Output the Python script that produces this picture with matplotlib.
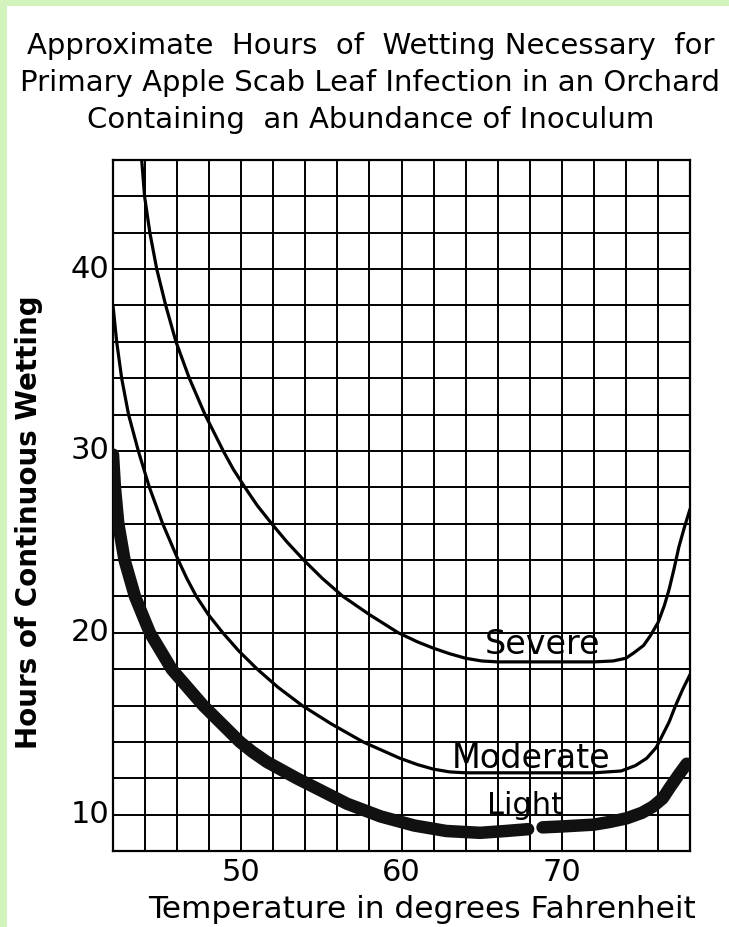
import matplotlib.pyplot as plt
from matplotlib.patches import Rectangle

# curves (deg F, hours)
severe_x = [43.79, 43.97, 44.3, 44.73, 45.29, 45.93, 46.76, 47.74, 48.88, 49.5, 50.23, 51.0,
            51.9, 52.85, 53.9, 55.05, 56.35, 58.0, 59.8, 61.0, 62.0, 63.0, 64.0, 65.0, 66.0,
            68.0, 70.0, 72.0, 73.2, 74.0, 74.5, 75.1, 75.5, 76.0, 76.4, 76.7, 77.0, 77.3,
            77.65, 78.0]
severe_y = [46.0, 44.0, 42.0, 40.0, 38.0, 36.0, 34.0, 32.0, 30.0, 29.0, 28.0, 27.0,
            26.0, 25.0, 24.0, 23.0, 22.0, 21.0, 20.0, 19.5, 19.15, 18.85, 18.6, 18.45, 18.4,
            18.4, 18.4, 18.4, 18.45, 18.6, 18.9, 19.3, 19.8, 20.55, 21.5, 22.4, 23.5, 24.7,
            25.8, 26.8]

moderate_x = [42.0, 42.23, 42.54, 42.97, 43.58, 44.27, 45.1, 46.07, 46.6, 47.2, 47.95, 48.85,
              49.85, 51.0, 52.3, 53.8, 55.6, 57.6, 59.9, 61.0, 62.0, 63.0, 64.0, 66.0, 68.0,
              70.0, 72.0, 73.7, 74.6, 75.3, 75.9, 76.3, 76.7, 77.1, 77.55, 78.0]
moderate_y = [38.0, 36.0, 34.0, 32.0, 30.0, 28.0, 26.0, 24.0, 23.0, 22.0, 21.0, 20.0,
              19.0, 18.0, 17.0, 16.0, 15.0, 14.0, 13.1, 12.75, 12.5, 12.35, 12.3, 12.3, 12.3,
              12.3, 12.3, 12.4, 12.7, 13.1, 13.7, 14.4, 15.1, 16.0, 16.9, 17.7]

light_left_x = [42.0, 42.12, 42.33, 42.72, 43.37, 44.3, 45.66, 47.63, 49.92, 50.7, 51.6, 53.46,
                54.7, 56.6, 58.7, 60.8, 62.8, 64.9, 66.5, 67.9]
light_left_y = [29.8, 28.0, 26.0, 24.0, 22.0, 20.0, 18.0, 16.0, 14.0, 13.45, 12.9, 12.0,
                11.45, 10.6, 9.9, 9.4, 9.1, 9.0, 9.1, 9.2]
light_right_x = [68.8, 70.0, 72.0, 73.0, 74.05, 75.0, 75.7, 76.3, 76.75, 77.3, 77.8]
light_right_y = [9.3, 9.35, 9.45, 9.6, 9.8, 10.1, 10.45, 10.9, 11.5, 12.2, 12.8]

x_ticks = [50, 60, 70]
y_ticks = [10, 20, 30, 40]

fig = plt.figure(figsize=(7.29, 9.27), dpi=100, facecolor='white')
# greenish scan border on the left and top
green = '#d2f4bc'
fig.patches.append(Rectangle((0, 0), 7 / 729, 1, transform=fig.transFigure,
                             facecolor=green, edgecolor='none'))
fig.patches.append(Rectangle((0, 1 - 6 / 927), 1, 6 / 927, transform=fig.transFigure,
                             facecolor=green, edgecolor='none'))

ax = fig.add_axes([113 / 729, 76 / 927, 577 / 729, 691 / 927])
ax.set_xlim(42, 78)
ax.set_ylim(8, 46)
ax.set_xticks(range(42, 79, 2))
ax.set_yticks(range(8, 47, 2))
ax.grid(True, color='black', linewidth=1.4)
ax.tick_params(length=0, labelbottom=False, labelleft=False)
for s in ax.spines.values():
    s.set_linewidth(1.6)

thin = dict(color='black', linewidth=2.3, solid_capstyle='round', solid_joinstyle='round', zorder=3)
thick = dict(color='#111111', linewidth=9, solid_capstyle='round', solid_joinstyle='round', zorder=3)
ax.plot(severe_x, severe_y, **thin)
ax.plot(moderate_x, moderate_y, **thin)
ax.plot(light_left_x, light_left_y, **thick)
ax.plot(light_right_x, light_right_y, **thick)

for t in x_ticks:
    ax.text(t, 7.6, str(t), ha='center', va='top', fontsize=22)
for t in y_ticks:
    ax.text(41.8, t, str(t), ha='right', va='center', fontsize=22)

ax.text(68.8, 19.35, 'Severe', ha='center', va='center', fontsize=24, zorder=4)
ax.text(68.1, 13.1, 'Moderate', ha='center', va='center', fontsize=24, zorder=4)
ax.text(67.7, 10.5, 'Light', ha='center', va='center', fontsize=22, zorder=4)

fig.text(0.579, 1 - 918 / 927, 'Temperature in degrees Fahrenheit', ha='center', va='baseline',
         fontsize=22.5)
fig.text(0.040, 0.437, 'Hours of Continuous Wetting', rotation=90, ha='center', va='center',
         fontsize=20, fontweight='bold')

fig.text(0.508, 0.966, 'Approximate  Hours  of  Wetting Necessary  for\n'
                       'Primary Apple Scab Leaf Infection in an Orchard\n'
                       'Containing  an Abundance of Inoculum',
         ha='center', va='top', fontsize=21, linespacing=1.42)

fig.savefig('out.png', dpi=100, facecolor=fig.get_facecolor())
